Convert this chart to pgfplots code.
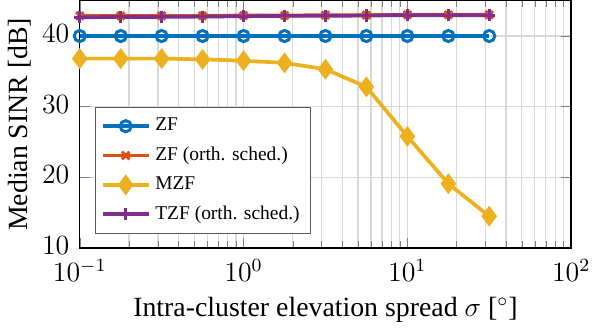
\documentclass[border=0pt]{standalone}
\usepackage[no-math]{fontspec}
\setmainfont{Liberation Serif}
\usepackage{pgfplots}
\pgfplotsset{compat=1.18}
\definecolor{mblue}{rgb}{0,0.447,0.741}
\definecolor{mred}{rgb}{0.85,0.325,0.098}
\definecolor{myellow}{rgb}{0.929,0.694,0.125}
\definecolor{mpurple}{rgb}{0.494,0.184,0.556}
\begin{document}
\begin{tikzpicture}
  \begin{axis}[
      scale only axis, width=7.45cm, height=3.75cm,
      xmode=log, xmin=0.1, xmax=100,
      ymin=10, ymax=45, ytick={10,20,30,40},
      xmajorgrids, xminorgrids, ymajorgrids,
      grid style={gray!30, line width=0.5pt},
      minor grid style={gray!30, line width=0.5pt},
      axis line style={black, line width=0.6pt},
      tick align=inside,
      tick label style={font=\fontsize{11.5}{13}\selectfont},
      yticklabel style={xshift=-1pt, yshift=1pt},
      xticklabel style={yshift=-1.5pt},
      label style={font=\fontsize{12}{14}\selectfont},
      xlabel={Intra-cluster elevation spread $\sigma$ [$^\circ$]},
      ylabel={Median SINR [dB]},
      ylabel style={yshift=-2pt},
      legend style={at={(0.03,0.058)}, anchor=south west, draw=black!65,
                    font=\fontsize{8.4}{10}\selectfont, row sep=1.5pt, inner sep=2.5pt},
      legend cell align=left,
      legend image code/.code={
        \draw[mark repeat=2, mark phase=2]
          plot coordinates {(0cm,0cm) (0.35cm,0cm) (0.7cm,0cm)};},
      every axis plot/.append style={line width=1.6pt},
    ]
    \addplot[mblue, mark=o, mark size=2.4pt, mark options={line width=1.3pt}]
      coordinates {(0.1,40) (0.178,40) (0.316,40) (0.562,40) (1,40) (1.78,40)
        (3.16,40) (5.62,40) (10,40) (17.8,40) (31.6,40)};
    \addlegendentry{ZF}
    \addplot[mred, mark=x, mark size=2.3pt, mark options={line width=1.3pt}]
      coordinates {(0.1,42.85) (0.178,42.85) (0.316,42.85) (0.562,42.85) (1,42.9)
        (1.78,42.9) (3.16,42.95) (5.62,42.95) (10,43.0) (17.8,43.0) (31.6,43.0)};
    \addlegendentry{ZF (orth. sched.)}
    \addplot[myellow, mark=diamond*, mark size=3.2pt]
      coordinates {(0.1,36.8) (0.178,36.8) (0.316,36.8) (0.562,36.7) (1,36.5)
        (1.78,36.2) (3.16,35.3) (5.62,32.8) (10,25.8) (17.8,19.1) (31.6,14.5)};
    \addlegendentry{MZF}
    \addplot[mpurple, mark=+, mark size=2.6pt, mark options={line width=1.3pt}]
      coordinates {(0.1,42.65) (0.178,42.7) (0.316,42.7) (0.562,42.75) (1,42.8)
        (1.78,42.85) (3.16,42.85) (5.62,42.9) (10,42.95) (17.8,42.95) (31.6,42.95)};
    \addlegendentry{TZF (orth. sched.)}
  \end{axis}
\end{tikzpicture}
\end{document}
